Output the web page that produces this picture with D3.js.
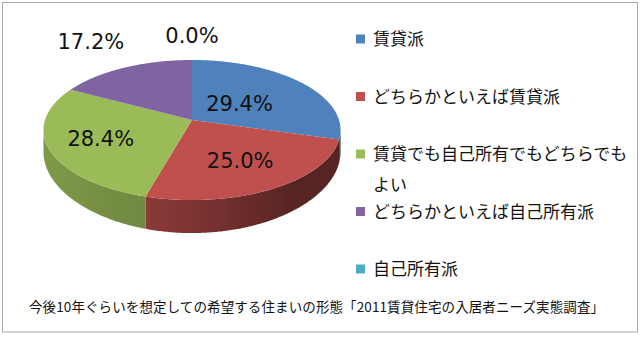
<!DOCTYPE html>
<html>
<head>
<meta charset="utf-8">
<script src="https://cdn.jsdelivr.net/npm/d3@7"></script>
<style>
  body { margin: 0; background: #fff; }
</style>
</head>
<body>
<div id="chart"></div>
<script>
// chart data
var categories = ["賃貸派", "どちらかといえば賃貸派", "賃貸でも自己所有でもどちらでもよい", "どちらかといえば自己所有派", "自己所有派"];
var values = [29.4, 25.0, 28.4, 17.2, 0.0];
var colors = ["#4F81BD", "#C0504D", "#9BBB59", "#8064A2", "#4BACC6"];
var caption = "今後10年ぐらいを想定しての希望する住まいの形態「2011賃貸住宅の入居者ニーズ実態調査」";

// layout (not data): where each percentage label sits, as a fraction of the radius
var labelRadius = [0.42, 0.62, 0.65, 1.6, 1.5];

var width = 640, height = 352;

var svg = d3.select("#chart")
  .append("svg")
    .attr("width", width)
    .attr("height", height);

// outer frame
svg.append("rect")
  .attr("x", 2.5).attr("y", 2.5)
  .attr("width", 635).attr("height", 329.5)
  .attr("fill", "#fff")
  .attr("stroke", "#a6a6a6");

// 3d pie geometry: a disc seen from above with a little perspective
var cx = 192, cy = 120, rx = 147, ry = 68.6, k = 0.143;
var depth = 20.8, kd = 0.37;

function proj(a, r) {
  var u = r * Math.sin(a), v = r * Math.cos(a), w = 1 + k * v;
  return [cx + rx * u / w, cy - ry * v / w];
}
function projBottom(a) {
  var p = proj(a, 1);
  return [p[0], p[1] + depth / (1 + kd * Math.cos(a))];
}
function arcPoints(a0, a1, f) {
  var n = Math.max(2, Math.ceil((a1 - a0) / 0.01));
  return d3.range(n + 1).map(function(i) { return f(a0 + (a1 - a0) * i / n); });
}
function shade(c, f) {
  var r = d3.rgb(c);
  return d3.rgb(r.r * f, r.g * f, r.b * f);
}

var pie = d3.pie().sort(null).value(function(d) { return d; });
var arcs = pie(values);
var line = d3.line();

// gradients for the side walls
var defs = svg.append("defs");
colors.forEach(function(c, i) {
  var g = defs.append("linearGradient")
    .attr("id", "side" + i)
    .attr("gradientUnits", "userSpaceOnUse")
    .attr("x1", cx - rx).attr("x2", cx + rx)
    .attr("y1", 0).attr("y2", 0);
  [[0, 0.82], [0.35, 0.72], [0.6, 0.6], [0.85, 0.45], [1, 0.45]].forEach(function(s) {
    g.append("stop").attr("offset", s[0]).attr("stop-color", shade(c, s[1]));
  });
});

// visible part of the side wall
var aR = Math.acos(-k), aL = 2 * Math.PI - aR;

var sides = svg.append("g");
arcs.forEach(function(d, i) {
  var s0 = Math.max(d.startAngle, aR), s1 = Math.min(d.endAngle, aL);
  if (s1 <= s0) return;
  var pts = arcPoints(s0, s1, function(a) { return proj(a, 1); })
    .concat(arcPoints(s0, s1, projBottom).reverse());
  sides.append("path")
    .attr("d", line(pts) + "Z")
    .attr("fill", "url(#side" + i + ")");
});

// top faces
var tops = svg.append("g");
arcs.forEach(function(d, i) {
  if (d.endAngle - d.startAngle <= 0) return;
  var pts = [[cx, cy]].concat(arcPoints(d.startAngle, d.endAngle, function(a) { return proj(a, 1); }));
  tops.append("path")
    .attr("d", line(pts) + "Z")
    .attr("fill", colors[i]);
});

// percentage labels
var fmt = d3.format(".1f");
svg.append("g")
  .selectAll("text")
  .data(arcs)
  .enter().append("text")
    .attr("x", function(d, i) { return proj((d.startAngle + d.endAngle) / 2, labelRadius[i])[0]; })
    .attr("y", function(d, i) { return proj((d.startAngle + d.endAngle) / 2, labelRadius[i])[1]; })
    .attr("dy", "0.365em")
    .attr("text-anchor", "middle")
    .attr("font-family", "DejaVu Sans, Verdana, sans-serif")
    .attr("font-size", 21)
    .attr("fill", "#111")
    .text(function(d) { return fmt(d.data) + "%"; });

// legend
var legendY = d3.scaleLinear().domain([0, categories.length - 1]).range([39, 269]);
var legendMax = 262;
var legend = svg.append("g");
categories.forEach(function(name, i) {
  var y = legendY(i);
  legend.append("rect")
    .attr("x", 356).attr("y", y - 4.5)
    .attr("width", 9).attr("height", 9)
    .attr("fill", colors[i]);
  var t = legend.append("text")
    .attr("x", 373).attr("y", y)
    .attr("font-family", "Noto Sans CJK JP, sans-serif")
    .attr("font-size", 17)
    .attr("fill", "#111");
  // wrap by characters when the name is too long
  var chars = Array.from(name), lineNo = 0, cur = "";
  var tspan = t.append("tspan").attr("x", 373).attr("dy", "0.38em");
  chars.forEach(function(ch) {
    tspan.text(cur + ch);
    if (tspan.node().getComputedTextLength() > legendMax && cur.length) {
      tspan.text(cur);
      cur = ch;
      lineNo++;
      tspan = t.append("tspan").attr("x", 373).attr("dy", 31).text(cur);
    } else {
      cur += ch;
    }
  });
});

// caption
svg.append("text")
  .attr("x", 29).attr("y", 307)
  .attr("dy", "0.38em")
  .attr("font-family", "Noto Sans CJK JP, sans-serif")
  .attr("font-size", 13.5)
  .attr("textLength", 575)
  .attr("lengthAdjust", "spacing")
  .attr("fill", "#111")
  .text(caption);
</script>
</body>
</html>
